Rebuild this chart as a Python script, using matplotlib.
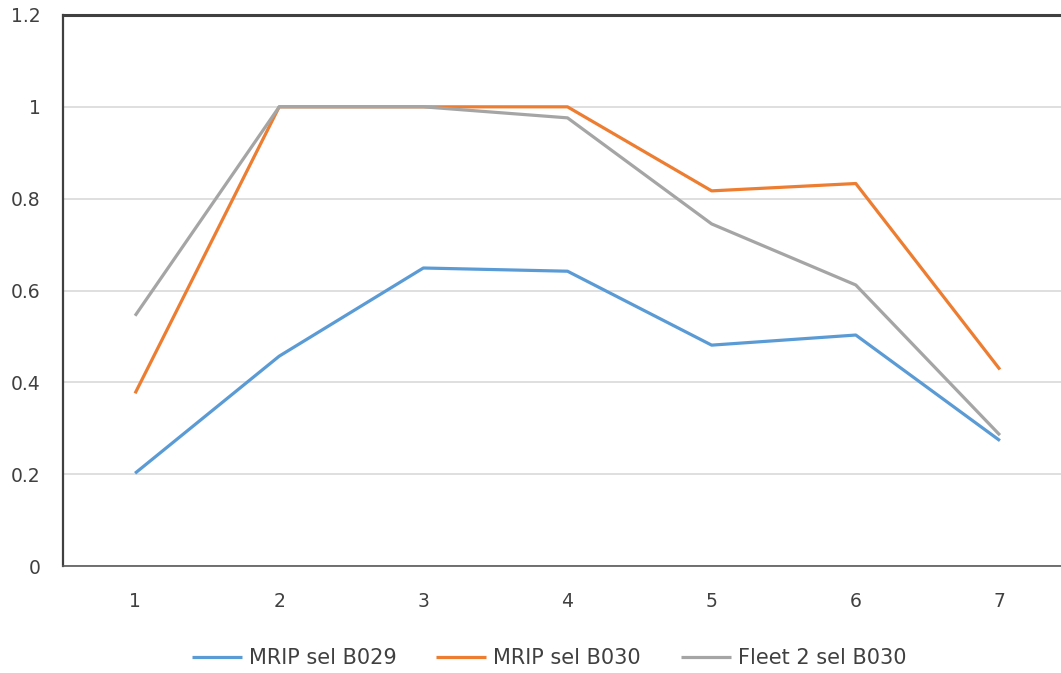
import matplotlib.pyplot as plt

plt.rcParams['font.family'] = ['DejaVu Sans']

x = [1, 2, 3, 4, 5, 6, 7]
mrip_b029 = [0.202, 0.457, 0.649, 0.642, 0.481, 0.503, 0.273]
mrip_b030 = [0.376, 1.0, 1.0, 1.0, 0.817, 0.833, 0.428]
fleet2_b030 = [0.545, 1.0, 1.0, 0.976, 0.745, 0.612, 0.285]
labels = ['MRIP sel B029', 'MRIP sel B030', 'Fleet 2 sel B030']
colors = ['#5B9BD5', '#ED7D31', '#A5A5A5']

W, H = 1061, 673
fig = plt.figure(figsize=(W / 100, H / 100), dpi=100)
ax = fig.add_axes([63 / W, 1 - 566 / H, (1072 - 63) / W, (566 - 15) / H])

for y, c, lab in zip([mrip_b029, mrip_b030, fleet2_b030], colors, labels):
    ax.plot(x, y, color=c, lw=2.3, label=lab, solid_capstyle='butt')

ax.set_xlim(0.5, 7.5)
ax.set_ylim(0, 1.2)
ax.set_yticks([0, 0.2, 0.4, 0.6, 0.8, 1.0, 1.2])
ax.set_yticklabels(['0', '0.2', '0.4', '0.6', '0.8', '1', '1.2'])
ax.set_xticks(x)
ax.grid(axis='y', color='#D9D9D9', lw=1.2)
ax.set_axisbelow(True)
ax.tick_params(length=0, labelsize=13.5, colors='#404040')
ax.tick_params(axis='y', pad=16)
ax.tick_params(axis='x', pad=19)
ax.spines['right'].set_visible(False)
ax.spines['top'].set_color('#404040')
ax.spines['top'].set_linewidth(2.2)
ax.spines['left'].set_color('#404040')
ax.spines['left'].set_linewidth(1.6)
ax.spines['bottom'].set_color('#595959')
ax.spines['bottom'].set_linewidth(1.2)

fig.legend(loc='center', bbox_to_anchor=(549 / W, 1 - 658 / H), ncol=3,
           frameon=False, fontsize=15, handlelength=2.4, columnspacing=1.9,
           handletextpad=0.35, labelcolor='#404040')

fig.savefig('out.png', dpi=100)
